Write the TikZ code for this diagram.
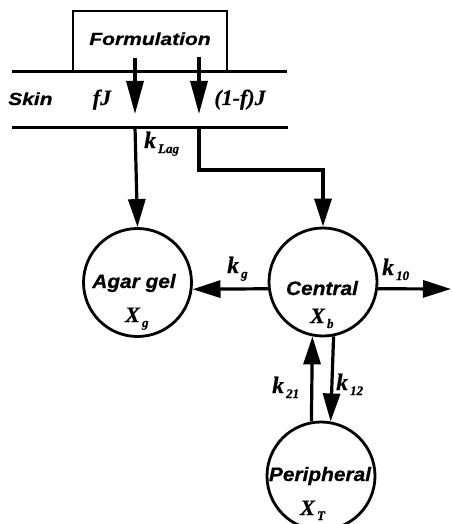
\documentclass[tikz,border=0pt]{standalone}
\usepackage{fontspec}
\usepackage{graphicx}
\setmainfont{Liberation Serif}[BoldItalicFeatures={FakeBold=0.6}]
\newfontfamily\hvfont{Liberation Sans}[BoldItalicFeatures={FakeBold=0.6}]
\usetikzlibrary{arrows.meta}
\newcommand{\sanslab}[1]{\scalebox{1.2}[1]{\hvfont\bfseries\itshape\fontsize{17.5}{17.5}\selectfont #1}}
\newcommand{\complab}[1]{\scalebox{1.07}[1]{\hvfont\bfseries\itshape\fontsize{19.5}{19.5}\selectfont #1}}
\newcommand{\serlab}[1]{{\bfseries\itshape\fontsize{22}{22}\selectfont #1}}
\newcommand{\kk}[1]{{\bfseries\itshape\fontsize{23.5}{23.5}\selectfont k}\raisebox{-5pt}{\bfseries\itshape\fontsize{13}{13}\selectfont\,#1}}
\newcommand{\xx}[1]{{\bfseries\itshape\fontsize{22}{22}\selectfont X}\raisebox{-5pt}{\bfseries\itshape\fontsize{13}{13}\selectfont\,#1}}
\tikzset{
  thickline/.style={line width=3pt},
  comp/.style={circle,draw,line width=2.8pt,minimum size=108pt,inner sep=0pt},
  bigarrow/.style={line width=3.2pt,-{Triangle[length=33pt,width=17pt]}},
  flow/.style={line width=3.2pt,-{Triangle[length=28pt,width=17pt]}},
  txt/.style={inner sep=0pt,anchor=base}
}
\begin{document}
\begin{tikzpicture}[x=1pt,y=-1pt]
\useasboundingbox (0,0) rectangle (451,524);
% formulation box
\node[draw,line width=2.6pt,minimum width=154pt,minimum height=61pt,inner sep=0pt] (formbox) at (150,41.5) {};
\node[txt] (formtxt) at (150,45) {\sanslab{Formulation}};
% skin lines
\draw[thickline] (12,72) -- (287,72);
\draw[thickline] (12,127) -- (288,127);
\node[txt,anchor=base west] (skin) at (8,105) {\sanslab{Skin}};
\node[txt] (fj) at (102,105) {\serlab{fJ}};
\node[txt] (onefj) at (240,105) {\serlab{(1-f)J}};
% coordinates
\coordinate (a1s) at (135,58);
\coordinate (a1e) at (135,114);
\coordinate (a2s) at (199,57);
\coordinate (a2e) at (199,114);
\coordinate (l1) at (135,127);
\coordinate (l2) at (199,127);
\coordinate (k10e) at (451,289);
\draw[bigarrow] (a1s) -- (a1e);
\draw[bigarrow] (a2s) -- (a2e);
% compartments
\node[comp] (agar) at (137.5,282.5) {};
\node[comp] (central) at (323,282) {};
\node[comp] (periph) at (321,476) {};
\node[txt] (agartxt) at (134,288) {\complab{Agar gel}};
\node[txt,anchor=base west] (agarx) at (125,322) {\xx{g}};
\node[txt] (centtxt) at (322,295) {\complab{Central}};
\node[txt,anchor=base west] (centx) at (310,323) {\xx{b}};
\node[txt] (peritxt) at (320,481) {\complab{Peripheral}};
\node[txt,anchor=base west] (perix) at (300,515) {\xx{T}};
% connectors
\draw[flow] (l1) -- (agar.north);
\draw[flow] (l2) -- (199,170) -| (central.north);
\draw[flow] (central.187) -- (agar.-7);
\draw[flow] (central.-7) -- (k10e);
\draw[flow] (periph.100) -- (central.259);
\draw[flow] (central.-79) -- (periph.80);
% rate labels
\node[txt,anchor=base west] (klag) at (144,148) {\kk{Lag}};
\node[txt,anchor=base west] (kg) at (227,273) {\kk{g}};
\node[txt,anchor=base west] (k10) at (382,275) {\kk{10}};
\node[txt,anchor=base west] (k21) at (272,393) {\kk{21}};
\node[txt,anchor=base west] (k12) at (336,390) {\kk{12}};
\end{tikzpicture}
\end{document}
